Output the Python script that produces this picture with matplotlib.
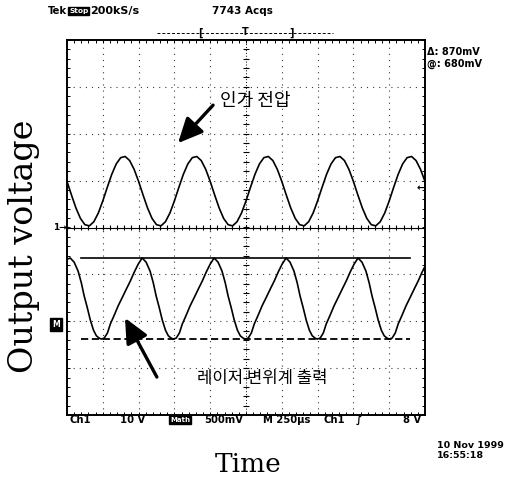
import matplotlib
matplotlib.use('Agg')
import matplotlib.pyplot as plt
from matplotlib.lines import Line2D
import numpy as np

W, H = 507, 479

# ---- data (screen divisions: x 0..10, y -4..4, centre = 0) ----
upper_t = [0.000, 0.125, 0.250, 0.375, 0.500, 0.625, 0.750, 0.875,
           1.000, 1.125, 1.250, 1.375, 1.500, 1.625, 1.750, 1.875,
           2.000, 2.125, 2.250, 2.375, 2.500, 2.625, 2.750, 2.875,
           3.000, 3.125, 3.250, 3.375, 3.500, 3.625, 3.750, 3.875,
           4.000, 4.125, 4.250, 4.375, 4.500, 4.625, 4.750, 4.875,
           5.000, 5.125, 5.250, 5.375, 5.500, 5.625, 5.750, 5.875,
           6.000, 6.125, 6.250, 6.375, 6.500, 6.625, 6.750, 6.875,
           7.000, 7.125, 7.250, 7.375, 7.500, 7.625, 7.750, 7.875,
           8.000, 8.125, 8.250, 8.375, 8.500, 8.625, 8.750, 8.875,
           9.000, 9.125, 9.250, 9.375, 9.500, 9.625, 9.750, 9.875,
           10.000]
upper_v = [0.983, 0.693, 0.416, 0.194, 0.060, 0.035, 0.123, 0.309,
           0.567, 0.857, 1.134, 1.356, 1.490, 1.515, 1.428, 1.241,
           0.983, 0.693, 0.416, 0.194, 0.060, 0.035, 0.123, 0.309,
           0.567, 0.857, 1.134, 1.356, 1.490, 1.515, 1.428, 1.241,
           0.983, 0.693, 0.416, 0.194, 0.060, 0.035, 0.123, 0.309,
           0.567, 0.857, 1.134, 1.356, 1.490, 1.515, 1.428, 1.241,
           0.983, 0.693, 0.416, 0.194, 0.060, 0.035, 0.123, 0.309,
           0.567, 0.857, 1.134, 1.356, 1.490, 1.515, 1.428, 1.241,
           0.983, 0.693, 0.416, 0.194, 0.060, 0.035, 0.123, 0.309,
           0.567, 0.857, 1.134, 1.356, 1.490, 1.515, 1.428, 1.241,
           0.983]

lower_t = [0.00,
           0.09, 0.20, 0.31, 0.40, 0.48, 0.57, 0.65, 0.74, 0.82, 0.90, 0.96,
           1.04, 1.13, 1.21, 1.32, 1.43, 1.54, 1.66, 1.77, 1.88, 1.99,
           2.10, 2.21, 2.32, 2.41, 2.49, 2.58, 2.66, 2.75, 2.83, 2.91, 2.97,
           3.05, 3.14, 3.22, 3.33, 3.44, 3.55, 3.67, 3.78, 3.89, 4.00,
           4.11, 4.22, 4.33, 4.42, 4.50, 4.59, 4.67, 4.76, 4.84, 4.92, 4.98,
           5.06, 5.15, 5.23, 5.34, 5.45, 5.56, 5.68, 5.79, 5.90, 6.01,
           6.12, 6.23, 6.34, 6.43, 6.51, 6.60, 6.68, 6.77, 6.85, 6.93, 6.99,
           7.07, 7.16, 7.24, 7.35, 7.46, 7.57, 7.69, 7.80, 7.91, 8.02,
           8.13, 8.24, 8.35, 8.44, 8.52, 8.61, 8.69, 8.78, 8.86, 8.94, 9.00,
           9.08, 9.17, 9.25, 9.36, 9.47, 9.58, 9.70, 9.81, 9.92, 10.00]
lower_v = [-0.68,
           -0.65, -0.74, -0.93, -1.18, -1.46, -1.72, -1.97, -2.19, -2.31, -2.36, -2.38,
           -2.36, -2.25, -2.06, -1.87, -1.67, -1.50, -1.31, -1.14, -0.95, -0.78,
           -0.65, -0.74, -0.93, -1.18, -1.46, -1.72, -1.97, -2.19, -2.31, -2.36, -2.38,
           -2.36, -2.25, -2.06, -1.87, -1.67, -1.50, -1.31, -1.14, -0.95, -0.78,
           -0.65, -0.74, -0.93, -1.18, -1.46, -1.72, -1.97, -2.19, -2.31, -2.36, -2.38,
           -2.36, -2.25, -2.06, -1.87, -1.67, -1.50, -1.31, -1.14, -0.95, -0.78,
           -0.65, -0.74, -0.93, -1.18, -1.46, -1.72, -1.97, -2.19, -2.31, -2.36, -2.38,
           -2.36, -2.25, -2.06, -1.87, -1.67, -1.50, -1.31, -1.14, -0.95, -0.78,
           -0.65, -0.74, -0.93, -1.18, -1.46, -1.72, -1.97, -2.19, -2.31, -2.36, -2.38,
           -2.36, -2.25, -2.06, -1.87, -1.67, -1.50, -1.31, -1.14, -0.95, -0.83]

cursor_hi = -0.65
cursor_lo = -2.38
cursor_span = [0.39, 9.58]
trigger_level = 0.84
math_ref = -2.07

label_applied = "인가 전압"
label_laser = "레이저 변위계 출력"
xlabel = "Time"
ylabel = "Output voltage"
status_items = [("Ch1", 70), ("10 V", 120), ("500mV", 204), ("M 250µs", 263),
                ("Ch1", 324), ("∫", 356), ("8 V", 403)]

# ---- figure ----
fig = plt.figure(figsize=(W / 100, H / 100), dpi=100)
fig.patch.set_facecolor('white')
L, R, T, B = 67, 425, 40, 415
ax = fig.add_axes([L / W, 1 - B / H, (R - L) / W, (B - T) / H])
ax.set_xlim(0, 10)
ax.set_ylim(-4, 4)
ax.set_xticks([])
ax.set_yticks([])
for sp in ax.spines.values():
    sp.set_linewidth(1.4)
    sp.set_color('black')

# graticule
minor_y = np.arange(-4, 4.001, 0.2)
minor_x = np.arange(0, 10.001, 0.2)
for gx in range(1, 10):
    if gx == 5:
        continue
    ax.plot([gx, gx], [-4, 4], color='#3a3a3a', lw=0.8, ls=(0, (1, 4.5)))
for gy in range(-3, 4):
    if gy == 0:
        continue
    ax.plot([0, 10], [gy, gy], color='#3a3a3a', lw=0.8, ls=(0, (1, 4.5)))
ax.plot([0, 10], [0, 0], color='black', lw=0.8)
ax.vlines(minor_x, -0.05, 0.05, color='black', lw=0.8)
ax.plot([5, 5], [-4, 4], color='black', lw=0.7, ls=(0, (1.0, 2.0)))
ax.hlines(minor_y, 5 - 0.08, 5 + 0.08, color='black', lw=0.8)
ax.vlines(minor_x, -4, -3.93, color='black', lw=0.7)
ax.vlines(minor_x, 3.93, 4, color='black', lw=0.7)
ax.hlines(minor_y, 0, 0.08, color='black', lw=0.7)
ax.hlines(minor_y, 9.92, 10, color='black', lw=0.7)

# traces
ax.plot(upper_t, upper_v, color='black', lw=1.2)
ax.plot(lower_t, lower_v, color='black', lw=1.2)

# cursors
ax.plot(cursor_span, [cursor_hi, cursor_hi], color='black', lw=1.2)
ax.plot(cursor_span, [cursor_lo, cursor_lo], color='black', lw=1.3,
        ls=(0, (4, 2)))

# annotations (Korean)
kfont = ['Noto Sans CJK KR', 'DejaVu Sans']
ax.text(5.25, 2.70, label_applied, family=kfont, fontsize=13,
        ha='center', va='center')
ax.text(5.45, -3.23, label_laser, family=kfont, fontsize=12,
        ha='center', va='center')
aprops = dict(arrowstyle='-|>,head_length=0.75,head_width=0.35', lw=2.4,
              color='black', mutation_scale=20, shrinkA=0, shrinkB=0)
ax.annotate('', xy=(3.10, 1.80), xytext=(4.08, 2.61), arrowprops=aprops)
ax.annotate('', xy=(1.62, -1.93), xytext=(2.51, -3.19), arrowprops=aprops)

# channel markers
sfont = dict(family='DejaVu Sans', weight='bold', color='black')
ax.text(-0.02, 0, "1→", ha='right', va='center', fontsize=6.5, **sfont)
ax.text(9.98, trigger_level, "←", ha='right', va='center', fontsize=7, **sfont)
ax.text(-0.3, math_ref, "M", ha='center', va='center', fontsize=5.5,
        family='DejaVu Sans', weight='bold', color='white',
        bbox=dict(boxstyle='square,pad=0.25', fc='black', ec='black'))


def ft(x, y, s, **kw):
    fig.text(x / W, 1 - y / H, s, **kw)


# header
ft(48, 11, "Tek", ha='left', va='center', fontsize=7.2, **sfont)
ft(69, 11, "Stop", ha='left', va='center', fontsize=5.3, family='DejaVu Sans',
   weight='bold', color='white',
   bbox=dict(boxstyle='square,pad=0.15', fc='black', ec='black'))
ft(90, 11, "200kS/s", ha='left', va='center', fontsize=8, **sfont)
ft(212, 11, "7743 Acqs", ha='left', va='center', fontsize=7.5, **sfont)
fig.add_artist(Line2D([157 / W, 333 / W], [1 - 33 / H, 1 - 33 / H],
                      color='black', lw=0.7, ls=(0, (3, 2))))
ft(200, 33, "[", ha='center', va='center', fontsize=7, **sfont)
ft(292, 33, "]", ha='center', va='center', fontsize=7, **sfont)
ft(245, 32, "T", ha='center', va='center', fontsize=7, **sfont)

# cursor readout
ft(427, 52, "Δ: 870mV", ha='left', va='center', fontsize=7, **sfont)
ft(427, 64, "@: 680mV", ha='left', va='center', fontsize=7, **sfont)

# status line
for s, x in status_items:
    ft(x, 420, s, ha='left', va='center', fontsize=7.2, **sfont)
ft(170, 420, "Math", ha='left', va='center', fontsize=5.0, family='DejaVu Sans',
   weight='bold', color='white',
   bbox=dict(boxstyle='square,pad=0.2', fc='black', ec='black'))
ft(437, 446, "10 Nov 1999", ha='left', va='center', fontsize=6.8, **sfont)
ft(437, 455, "16:55:18", ha='left', va='center', fontsize=6.8, **sfont)

# axis titles
ft(248, 465, xlabel, ha='center', va='center', fontsize=19, family='DejaVu Serif')
ft(24, 246, ylabel, ha='center', va='center', fontsize=24, family='DejaVu Serif',
   rotation=90)

fig.savefig('out.png', dpi=100, facecolor='white')
